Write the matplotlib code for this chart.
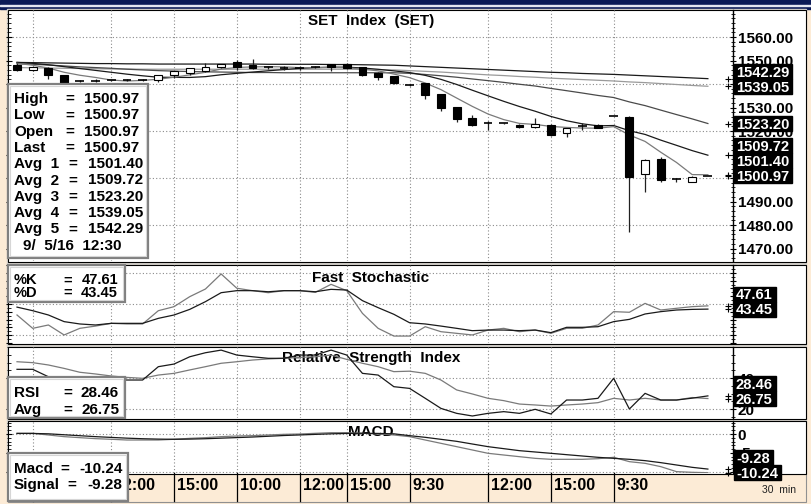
import numpy as np
import matplotlib
matplotlib.use("Agg")
import matplotlib.pyplot as plt
from matplotlib.patches import Rectangle

plt.rcParams['font.family'] = ['Liberation Sans', 'DejaVu Sans']
plt.rcParams['font.weight'] = 'bold'

W, H = 811, 504
PEACH = '#fcebd6'
NAVY = '#0b1a56'
GRID = '#8a8a8a'
GRAY_LINE = '#7a7a7a'
DARK_LINE = '#1a1a1a'

# ---- SET index, 30 min bars ----
opens = [1548.2, 1546.0, 1546.8, 1543.8, 1541.3, 1541.3, 1541.6, 1541.7, 1541.7, 1541.7,
         1543.8, 1544.5, 1545.5, 1547.2, 1549.4, 1548.1, 1547.2, 1546.8, 1546.8, 1547.2,
         1548.5, 1548.5, 1547.2, 1544.7, 1543.4, 1539.6, 1540.4, 1535.7, 1530.2, 1525.5,
         1523.4, 1523.4, 1522.6, 1521.7, 1522.6, 1519.1, 1522.1, 1522.6, 1526.4, 1526.0,
         1501.7, 1508.1, 1499.6, 1498.5, 1500.97]
highs = [1548.9, 1547.6, 1547.4, 1544.0, 1541.9, 1542.1, 1541.9, 1542.0, 1542.1, 1543.9,
         1545.6, 1547.0, 1548.9, 1548.7, 1550.2, 1550.6, 1547.6, 1547.6, 1547.8, 1547.5,
         1548.7, 1548.8, 1547.4, 1545.0, 1543.6, 1540.0, 1540.6, 1535.9, 1530.4, 1526.8,
         1524.3, 1523.6, 1523.0, 1525.5, 1522.9, 1521.5, 1523.5, 1523.0, 1526.6, 1526.3,
         1507.9, 1508.9, 1500.0, 1500.7, 1500.97]
lows = [1545.6, 1545.6, 1542.1, 1540.2, 1540.8, 1540.8, 1541.3, 1541.4, 1541.3, 1540.9,
        1542.6, 1543.9, 1545.3, 1547.0, 1546.0, 1546.6, 1546.2, 1546.0, 1545.8, 1546.9,
        1545.5, 1546.4, 1543.6, 1541.7, 1540.2, 1539.2, 1533.6, 1528.5, 1523.8, 1522.1,
        1520.4, 1523.2, 1521.3, 1521.3, 1517.8, 1517.4, 1520.4, 1521.1, 1526.2, 1477.0,
        1494.2, 1498.2, 1498.2, 1498.4, 1500.97]
closes = [1546.0, 1547.2, 1543.8, 1540.4, 1541.3, 1541.3, 1541.7, 1541.7, 1541.7, 1543.8,
          1545.5, 1546.8, 1547.2, 1548.5, 1547.2, 1546.8, 1547.2, 1546.8, 1546.8, 1547.2,
          1547.2, 1546.8, 1543.8, 1543.0, 1540.4, 1539.6, 1535.3, 1529.8, 1525.1, 1522.6,
          1523.4, 1523.4, 1521.7, 1523.0, 1518.3, 1521.3, 1522.1, 1521.3, 1526.4, 1500.4,
          1507.7, 1499.1, 1499.6, 1500.3, 1500.97]

avg1 = [1548.8, 1548.0, 1546.8, 1545.0, 1543.74, 1542.8, 1541.7, 1541.28, 1541.54, 1542.04,
        1542.88, 1543.9, 1545.0, 1546.36, 1547.04, 1547.3, 1547.38, 1547.3, 1546.96, 1546.96,
        1547.04, 1546.96, 1546.36, 1545.6, 1544.24, 1542.72, 1540.42, 1537.62, 1534.04, 1530.48,
        1527.24, 1524.86, 1523.24, 1522.82, 1521.96, 1521.54, 1521.28, 1521.2, 1521.88, 1518.3,
        1515.58, 1510.98, 1506.64, 1501.46, 1501.40]
avg2 = [1549.2, 1548.8, 1548.2, 1547.4, 1546.6, 1545.8, 1545.0, 1544.2, 1543.5, 1542.89,
        1542.84, 1542.8, 1543.14, 1543.95, 1544.54, 1545.09, 1545.64, 1546.15, 1546.66, 1547.0,
        1547.17, 1547.17, 1546.83, 1546.28, 1545.6, 1544.88, 1543.69, 1541.99, 1539.82, 1537.36,
        1534.98, 1532.64, 1530.43, 1528.43, 1526.22, 1524.39, 1523.07, 1522.22, 1522.35, 1520.13,
        1518.56, 1516.13, 1513.92, 1511.67, 1509.72]
avg3 = [1548.6, 1548.4, 1548.1, 1547.7, 1547.3, 1547.0, 1546.7, 1546.3, 1546.0, 1545.7,
        1545.5, 1545.3, 1545.2, 1545.1, 1545.0, 1544.9, 1544.9, 1544.8, 1544.8, 1544.8,
        1544.8, 1544.8, 1544.8, 1544.8, 1544.8, 1544.55, 1544.07, 1543.51, 1542.9, 1542.15,
        1541.44, 1540.7, 1539.9, 1539.16, 1538.14, 1537.17, 1536.18, 1535.14, 1534.26, 1532.39,
        1530.82, 1528.9, 1527.01, 1525.16, 1523.20]
avg4 = [1547.0, 1546.9, 1546.8, 1546.7, 1546.6, 1546.5, 1546.4, 1546.4, 1546.3, 1546.3,
        1546.3, 1546.3, 1546.3, 1546.3, 1546.3, 1546.3, 1546.3, 1546.3, 1546.3, 1546.3,
        1546.3, 1546.3, 1546.2, 1546.1, 1546.0, 1545.7, 1545.4, 1545.1, 1544.7, 1544.3,
        1543.9, 1543.6, 1543.2, 1542.9, 1542.5, 1542.2, 1541.9, 1541.6, 1541.3, 1540.9,
        1540.6, 1540.2, 1539.8, 1539.4, 1539.05]
avg5 = [1549.2, 1549.1, 1549.0, 1548.9, 1548.8, 1548.7, 1548.7, 1548.6, 1548.6, 1548.5,
        1548.5, 1548.5, 1548.5, 1548.5, 1548.5, 1548.5, 1548.4, 1548.4, 1548.4, 1548.4,
        1548.3, 1548.3, 1548.2, 1548.1, 1548.0, 1547.7, 1547.4, 1547.1, 1546.8, 1546.5,
        1546.2, 1545.9, 1545.6, 1545.3, 1545.0, 1544.8, 1544.5, 1544.3, 1544.1, 1543.8,
        1543.5, 1543.2, 1542.9, 1542.6, 1542.29]

stoch_k = [35.9, 18.8, 23.1, 10.3, 18.8, 21.7, 25.2, 24.4, 24.4, 41.4,
           46.6, 59.4, 69.2, 88.5, 70.2, 67.1, 64.5, 67.1, 67.1, 64.9,
           75.2, 67.1, 38.0, 18.8, 8.9, 8.9, 20.9, 14.5, 12.4, 10.3,
           16.6, 18.8, 14.5, 16.6, 12.4, 18.8, 18.8, 23.1, 40.2, 39.4,
           50.8, 42.3, 44.5, 46.6, 47.61]
stoch_d = [46.0, 41.4, 35.9, 27.4, 24.4, 23.1, 25.2, 25.2, 25.2, 31.6,
           35.9, 43.1, 53.0, 64.5, 67.1, 67.1, 65.7, 67.1, 67.1, 65.7,
           68.8, 67.9, 54.3, 45.3, 36.8, 26.0, 24.4, 21.7, 18.8, 15.8,
           16.6, 16.6, 15.8, 16.6, 13.3, 20.1, 20.1, 20.9, 27.4, 30.3,
           37.2, 40.2, 42.3, 43.1, 43.45]

rsi = [45.6, 45.6, 40.8, 39.5, 38.5, 38.8, 38.9, 38.7, 38.7, 47.3,
       49.0, 53.7, 56.3, 58.0, 54.8, 53.7, 52.7, 52.7, 54.8, 54.8,
       58.0, 54.8, 43.0, 41.9, 34.4, 33.3, 26.9, 20.4, 17.2, 15.5,
       17.2, 18.3, 17.2, 19.8, 16.8, 25.8, 25.8, 26.9, 39.8, 20.0,
       30.1, 25.8, 25.8, 27.0, 28.46]
rsi_avg = [50.5, 49.9, 48.4, 46.2, 43.7, 42.6, 41.3, 40.4, 39.8, 41.9,
           43.0, 45.2, 47.3, 49.5, 50.5, 51.6, 52.3, 52.7, 53.3, 53.7,
           54.8, 52.0, 49.5, 47.3, 44.1, 44.4, 43.0, 38.7, 32.3, 29.7,
           26.9, 25.4, 23.2, 22.6, 21.9, 22.6, 23.2, 24.1, 26.9, 25.8,
           26.9, 25.8, 25.8, 27.4, 26.75]

macd = [0.18, 0.18, -0.26, -0.7, -0.97, -1.23, -1.4, -1.59, -1.59, -1.59,
        -1.4, -1.15, -0.97, -0.7, -0.53, -0.44, -0.26, -0.09, 0.0, 0.18,
        0.35, 0.35, 0.18, 0.0, -0.26, -0.7, -1.59, -2.47, -3.35, -4.23,
        -5.11, -5.56, -6.0, -6.44, -6.7, -6.7, -6.7, -6.53, -6.17, -7.32,
        -7.76, -8.64, -9.96, -10.14, -10.24]
signal = [0.15, 0.15, 0.05, -0.2, -0.45, -0.7, -0.9, -1.1, -1.25, -1.35,
          -1.4, -1.35, -1.25, -1.1, -0.95, -0.8, -0.6, -0.4, -0.25, -0.1,
          0.05, 0.15, 0.2, 0.15, 0.05, -0.44, -0.88, -1.41, -1.94, -2.65,
          -3.35, -3.88, -4.41, -4.76, -5.11, -5.47, -5.82, -6.17, -6.44, -6.7,
          -7.05, -7.58, -8.2, -8.82, -9.28]

tick_bars = [1, 6, 10, 14, 18, 21, 25, 30, 34, 38]
tick_labels = ["10:00", "12:00", "15:00", "10:00", "12:00", "15:00",
               "9:30", "12:00", "15:00", "9:30"]
last_stamp = "9/  5/16  12:30"

# price axis labels (those sitting under the value tags are blank)
price_ticks = [1470, 1480, 1490, 1500, 1510, 1520, 1530, 1540, 1550, 1560]
price_ticklabels = ["1470.00", "1480.00", "1490.00", "", "", "1520.00",
                    "1530.00", "", "1550.00", "1560.00"]

bars = np.arange(len(closes))
XLIM = (-0.51, 45.6)
MARK_X = 45.3

fig = plt.figure(figsize=(W / 100, H / 100), dpi=100)
fig.patch.set_facecolor(PEACH)

# background / frame in pixel coords
bg = fig.add_axes([0, 0, 1, 1], zorder=0)
bg.set_xlim(0, W)
bg.set_ylim(H, 0)
bg.axis('off')
bg.add_patch(Rectangle((0, 0), W, 9, color=NAVY))
bg.add_patch(Rectangle((0, 5), W, 1.2, color='#e4e6f0'))
bg.add_patch(Rectangle((7, 9), 799, 465, color='#d4d1cc'))
bg.add_patch(Rectangle((7.5, 473.5), 798, 28, fc=PEACH, ec='#909090', lw=0.8))

fg = fig.add_axes([0, 0, 1, 1], zorder=5)
fg.set_xlim(0, W)
fg.set_ylim(H, 0)
fg.axis('off')


def make_panel(top, bot, ylo, yhi, hgrid):
    bg.add_patch(Rectangle((7.5, top - 0.5), 798, bot - top + 1, fc='white', ec='black', lw=0.8))
    ax = fig.add_axes([9 / W, 1 - bot / H, 724 / W, (bot - top) / H], zorder=1)
    ax.set_facecolor('none')
    for s in ('left', 'top', 'bottom'):
        ax.spines[s].set_visible(False)
    ax.spines['right'].set_linewidth(1.0)
    ax.yaxis.tick_right()
    ax.tick_params(axis='y', which='both', left=True, right=True, direction='inout',
                   labelsize=11, pad=1)
    ax.tick_params(axis='y', which='major', length=5, width=0.8)
    ax.tick_params(axis='y', which='minor', length=3, width=0.6)
    ax.set_xticks([])
    for b in tick_bars:
        ax.axvline(b, color=GRID, lw=0.8, ls=(0, (1, 2)), zorder=0.5)
    for g in hgrid:
        ax.axhline(g, color=GRID, lw=0.8, ls=(0, (1, 2)), zorder=0.5)
    ax.set_xlim(*XLIM)
    ax.set_ylim(ylo, yhi)
    ax._px = (top, bot, ylo, yhi)
    return ax


def value_tags(ax, values):
    top, bot, ylo, yhi = ax._px
    ppu = (bot - top) / (yhi - ylo)
    ys = sorted([(top + (yhi - v) * ppu, v) for v in values], reverse=True)
    prev = None
    for y, v in ys:
        if prev is not None and y > prev - 15:
            y = prev - 15
        s = f"{v:.2f}"
        w = 5 + 8.2 * sum(ch.isdigit() for ch in s) + 4 * s.count('.') + 5 * s.count('-')
        fg.add_patch(Rectangle((734, y - 7.5), w, 15, color='black'))
        fg.text(736, y + 5.3, s, color='white', fontsize=10.6, va='baseline', ha='left')
        prev = y
    ax.plot(np.full(len(values), MARK_X), values, ls='none', marker='+', ms=4,
            mew=0.8, color='black', clip_on=False, zorder=5)


def title(ax, text, baseline):
    top, bot, _, _ = ax._px
    ax.text(0.5, (bot - baseline) / (bot - top), text, transform=ax.transAxes,
            ha='center', va='baseline', fontsize=11, zorder=1)


def info_box(x0, y0, x1, y1, rows, fs=11):
    fg.add_patch(Rectangle((x0, y0), x1 - x0, y1 - y0, fc='white', ec='#808080', lw=1.6))
    fg.add_patch(Rectangle((x0 + 2, y0 + 2), x1 - x0 - 4, y1 - y0 - 4, fc='none',
                           ec='#d6d6d6', lw=0.8))
    for lab, eq_x, val, val_x, yb in rows:
        fg.text(x0 + 6, yb, lab, va='baseline', fontsize=fs)
        fg.text(eq_x, yb, '=', va='baseline', fontsize=fs)
        fg.text(val_x, yb, val, va='baseline', ha='right', fontsize=fs)


# ---- price panel ----
ax1 = make_panel(10, 261, 1464.7, 1571.5, [1560, 1540, 1520, 1500, 1480])
ax1.set_yticks(price_ticks)
ax1.set_yticklabels(price_ticklabels)
ax1.set_yticks(np.arange(1466, 1571, 2), minor=True)
title(ax1, "SET  Index  (SET)", 25)

for vals, col in [(avg5, DARK_LINE), (avg4, '#9a9a9a'), (avg3, '#4a4a4a'),
                  (avg2, DARK_LINE), (avg1, GRAY_LINE)]:
    ax1.plot(bars, vals, color=col, lw=0.9, zorder=2)

o, h, l, c = map(np.array, (opens, highs, lows, closes))
ax1.vlines(bars, l, h, color='#202020', lw=0.9, zorder=3)
body = np.abs(c - o) >= 0.2
up = c > o
m = body & up
ax1.bar(bars[m], (c - o)[m], bottom=o[m], width=0.5, fc='white', ec='black', lw=0.8, zorder=4)
m = body & ~up
ax1.bar(bars[m], (o - c)[m], bottom=c[m], width=0.5, fc='black', ec='black', lw=0.8, zorder=4)
ax1.hlines(c[~body], bars[~body] - 0.28, bars[~body] + 0.28, color='black', lw=1.2, zorder=4)
ax1.set_xlim(*XLIM)
ax1.set_ylim(1464.7, 1571.5)
value_tags(ax1, [avg5[-1], avg4[-1], avg3[-1], avg2[-1], avg1[-1], closes[-1]])

# ---- fast stochastic ----
ax2 = make_panel(265, 343, 0, 100, [90, 50, 10])
ax2.set_yticks(np.arange(0, 101, 10))
ax2.set_yticks(np.arange(0, 101, 5), minor=True)
ax2.tick_params(axis='y', labelright=False)
title(ax2, "Fast  Stochastic", 282)
ax2.plot(bars, stoch_k, color=GRAY_LINE, lw=0.9, zorder=3)
ax2.plot(bars, stoch_d, color=DARK_LINE, lw=0.9, zorder=3)
value_tags(ax2, [stoch_k[-1], stoch_d[-1]])

# ---- RSI ----
ax3 = make_panel(347, 418, 14.2, 60.0, [40, 20])
ax3.set_yticks([20, 40])
ax3.set_yticklabels(["20", "40"])
ax3.set_yticks(np.arange(15, 61, 5), minor=True)
title(ax3, "Relative  Strength  Index", 362)
ax3.plot(bars, rsi_avg, color=GRAY_LINE, lw=0.9, zorder=3)
ax3.plot(bars, rsi, color=DARK_LINE, lw=0.9, zorder=3)
value_tags(ax3, [rsi[-1], rsi_avg[-1]])

# ---- MACD ----
ax4 = make_panel(421, 473, -10.32, 3.44, [0, -10])
ax4.set_yticks([0, -5, -10])
ax4.set_yticklabels(["0", "-5", ""])
ax4.set_yticks(np.arange(-10, 4, 1), minor=True)
title(ax4, "MACD", 436)
ax4.plot(bars, macd, color=GRAY_LINE, lw=0.9, zorder=3)
ax4.plot(bars, signal, color=DARK_LINE, lw=0.9, zorder=3)
value_tags(ax4, [signal[-1], macd[-1]])

# time axis strip
tr = ax4.get_xaxis_transform()
for b, lab in zip(tick_bars, tick_labels):
    ax4.plot([b, b], [0, -28 / 52], transform=tr, color='black', lw=0.9, clip_on=False)
    ax4.text(b + 0.2, -17 / 52, lab, transform=tr, fontsize=11.5, va='baseline',
             ha='left', clip_on=False)
fg.text(762, 493, "30  min", fontsize=7.5, fontweight='normal', color='#202020', va='baseline')

# ---- info boxes ----
rows = []
for k, (lab, val) in enumerate([("High", highs[-1]), ("Low", lows[-1]),
                                ("Open", opens[-1]), ("Last", closes[-1])]):
    rows.append((lab, 65, f"{val:.2f}", 139, 103 + 16.3 * k))
for k, val in enumerate([avg1[-1], avg2[-1], avg3[-1], avg4[-1], avg5[-1]]):
    rows.append((f"Avg  {k + 1}", 68, f"{val:.2f}", 143, 103 + 16.3 * (k + 4)))
info_box(8, 84, 148, 258, rows)
fg.text(23, 103 + 16.3 * 9, last_stamp, va='baseline', fontsize=11)

info_box(8, 265, 125, 302, [("%K", 63, f"{stoch_k[-1]:.2f}", 118, 284.5),
                            ("%D", 63, f"{stoch_d[-1]:.2f}", 118, 297)], fs=10.5)
info_box(8, 377, 125, 418, [("RSI", 63, f"{rsi[-1]:.2f}", 119, 397),
                            ("Avg", 63, f"{rsi_avg[-1]:.2f}", 119, 414)])
info_box(8, 453, 128, 501, [("Macd", 60, f"{macd[-1]:.2f}", 123, 473),
                            ("Signal", 67, f"{signal[-1]:.2f}", 122, 489)])

fig.savefig("out.png", dpi=100, facecolor=fig.get_facecolor())
